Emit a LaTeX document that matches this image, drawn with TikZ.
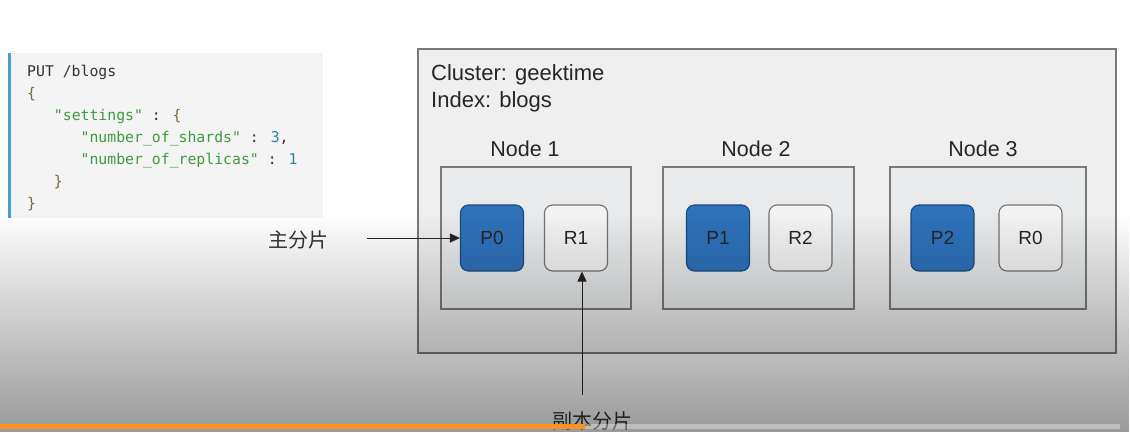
\documentclass[tikz,border=0pt]{standalone}
\usepackage{fontspec}
\setmainfont{Liberation Sans}
\newfontfamily\codefont{DejaVu Sans Mono}
\newfontfamily\cjkfont{Noto Sans CJK SC}
\usetikzlibrary{fadings,arrows.meta}
\definecolor{codebg}{HTML}{F4F4F4}
\definecolor{codebar}{HTML}{4A9FD5}
\definecolor{cbrace}{HTML}{7D6A38}
\definecolor{cstr}{HTML}{3E9A3E}
\definecolor{cnum}{HTML}{2F7FA0}
\definecolor{cplain}{HTML}{333333}
\definecolor{clfill}{HTML}{EFEFEF}
\definecolor{clline}{HTML}{7A7A7A}
\definecolor{nbfill}{HTML}{E8EAEB}
\definecolor{pfill}{HTML}{2E72BB}
\definecolor{pline}{HTML}{1D4A7C}
\definecolor{rfill}{HTML}{F3F3F3}
\definecolor{barorange}{HTML}{F7931E}
\tikzfading[name=fadedown, top color=transparent!100, bottom color=transparent!0]
\tikzset{
  codeline/.style={anchor=base west, inner sep=0pt, font=\codefont\fontsize{14.8}{18}\selectfont, text=cplain},
  clusterbox/.style={draw=clline, line width=1.4pt, fill=clfill, minimum width=698pt, minimum height=304pt, inner sep=0pt},
  nodebox/.style={draw=clline, line width=1.4pt, fill=nbfill, minimum height=142pt, inner sep=0pt},
  primary/.style={draw=pline, line width=1.1pt, fill=pfill, rounded corners=8pt, minimum width=63pt, minimum height=66pt, inner sep=0pt, font=\fontsize{19}{22}\selectfont, text=black!85},
  replica/.style={draw=black!55, line width=1.1pt, fill=rfill, rounded corners=8pt, minimum width=63pt, minimum height=66pt, inner sep=0pt, font=\fontsize{19}{22}\selectfont, text=black!85},
  title/.style={anchor=west, inner sep=0pt, font=\fontsize{22}{24}\selectfont, text=black!85},
  nodelabel/.style={inner sep=0pt, font=\fontsize{21.5}{24}\selectfont, text=black!85},
  cjklabel/.style={inner sep=0pt, font=\cjkfont\fontsize{20}{24}\selectfont, text=black!80},
  conn/.style={draw=black!85, line width=1pt, -{Triangle[length=10pt,width=9pt]}}
}
\begin{document}
\begin{tikzpicture}[x=1pt,y=-1pt]
\useasboundingbox (0,0) rectangle (1130,432);
\fill[white] (0,0) rectangle (1130,432);
% code box
\fill[codebg] (8,53) rectangle (323,218);
\fill[codebar] (8,53) rectangle (11,218);
\node[codeline] (c1) at (27,76) {PUT /blogs};
\node[codeline] (c2) at (27,98) {\textcolor{cbrace}{\{}};
\node[codeline] (c3) at (27,120) {\phantom{xxx}\textcolor{cstr}{"settings"} : \textcolor{cbrace}{\{}};
\node[codeline] (c4) at (27,142) {\phantom{xxxxxx}\textcolor{cstr}{"number\_of\_shards"} : \textcolor{cnum}{3},};
\node[codeline] (c5) at (27,164) {\phantom{xxxxxx}\textcolor{cstr}{"number\_of\_replicas"} : \textcolor{cnum}{1}};
\node[codeline] (c6) at (27,186) {\phantom{xxx}\textcolor{cbrace}{\}}};
\node[codeline] (c7) at (27,208) {\textcolor{cbrace}{\}}};
% cluster
\node[clusterbox] (cluster) at (767,201) {};
\node[title] (clname) at (431,75) {Cluster: geektime};
\node[title] (idxname) at (431,102) {Index: blogs};
% nodes
\node[nodelabel] (n1l) at (525,149) {Node 1};
\node[nodelabel] (n2l) at (756,149) {Node 2};
\node[nodelabel] (n3l) at (983,149) {Node 3};
\node[nodebox, minimum width=190pt] (n1) at (536,238) {};
\node[nodebox, minimum width=191pt] (n2) at (758.5,238) {};
\node[nodebox, minimum width=196pt] (n3) at (988,238) {};
% shards
\node[primary] (P0) at (492,238) {P0};
\node[replica] (R1) at (576,238) {R1};
\node[primary] (P1) at (718,238) {P1};
\node[replica] (R2) at (800.5,238) {R2};
\node[primary] (P2) at (942.5,238) {P2};
\node[replica] (R0) at (1030.5,238) {R0};
% annotations
\node[cjklabel] (zhu) at (298,240) {主分片};
\coordinate (a1) at (367,238);
\draw[conn] (a1) -- (P0.west);
\coordinate (a2) at (582,395);
\draw[conn] (a2) -- (a2 |- R1.south);
\node[cjklabel] (fu) at (592,421) {副本分片};
% screen darkening
\fill[black, fill opacity=0.4, path fading=fadedown] (0,212) rectangle (1130,432);
% video progress bar
\fill[barorange] (0,424) rectangle (585,429);
\fill[white, fill opacity=0.35] (585,424) rectangle (1120,429);
\end{tikzpicture}
\end{document}
